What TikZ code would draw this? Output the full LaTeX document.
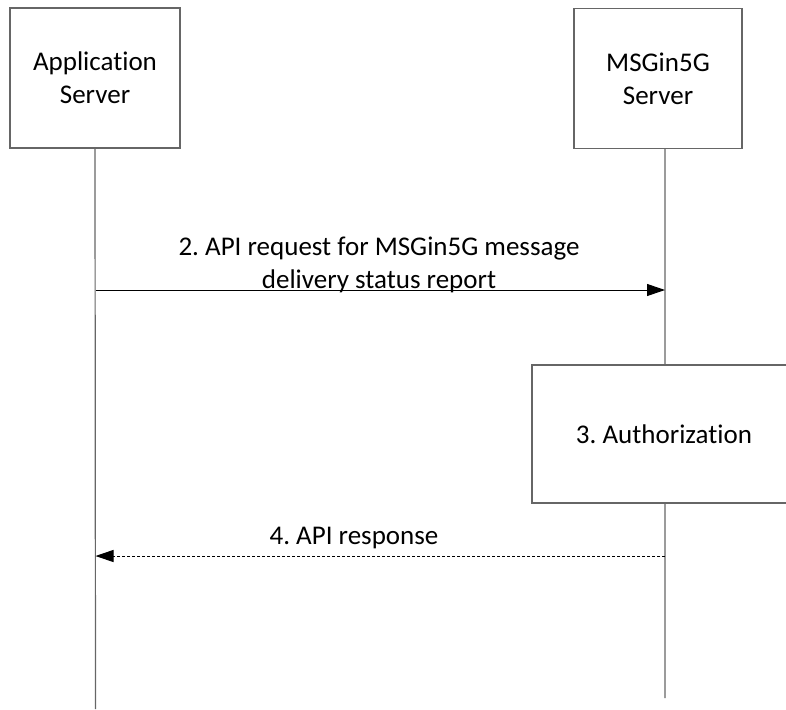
\documentclass[tikz,border=0pt]{standalone}
\usepackage{fontspec}
\setmainfont{Carlito}[RawFeature={-liga;-clig;-calt;-dlig}]
\usepackage{tikz}
\usetikzlibrary{arrows.meta,positioning}
\frenchspacing

\definecolor{lifegray}{HTML}{666666}

\begin{document}
\begin{tikzpicture}[x=1pt,y=-1pt,>={Triangle[length=18pt,width=12pt]},
		font=\fontsize{27}{33}\selectfont,
		actor box/.style={rectangle,draw=lifegray,line width=1.2pt,align=center,minimum width=170pt,minimum height=140pt,inner sep=0pt},
		step box/.style={rectangle,draw=lifegray,fill=white,line width=1.2pt,minimum width=264pt,minimum height=138pt,inner sep=0pt},
		life line/.style={draw=lifegray,line width=1.2pt},
		msg/.style={->,draw=black,line width=1pt},
		reply/.style={->,draw=black,line width=1pt,dash pattern=on 3pt off 2pt}]
		
		\useasboundingbox (0,0) rectangle (786,709);
		
		\node[actor box](as) at (95,78){Application\\Server};
		\node[actor box,minimum width=168pt](ms) at (658,78.5){MSGin5G\\Server};
		
		\coordinate (as end) at (95.5,709);
		\coordinate (ms top) at (665,148);
		\coordinate (ms end) at (665,698);
		
		\path[life line]
		(as.south) -- (as end)
		(ms top) -- (ms end);
		
		\coordinate (req from) at (95.5,290);
		\coordinate (req to) at (665,290);
		\coordinate (resp from) at (665,556);
		\coordinate (resp to) at (95.5,556);
		
		\draw[msg] (req from) -- (req to);
		\node[anchor=south,align=center,inner sep=0pt](req) at (379,293){2. API request for MSGin5G message\\delivery status report};
		
		\node[step box](auth) at (664,434){3. Authorization};
		
		\draw[reply] (resp from) -- (resp to);
		\node[anchor=base,inner sep=0pt](resp) at (354,544){4. API response};
		
	\end{tikzpicture}
\end{document}
